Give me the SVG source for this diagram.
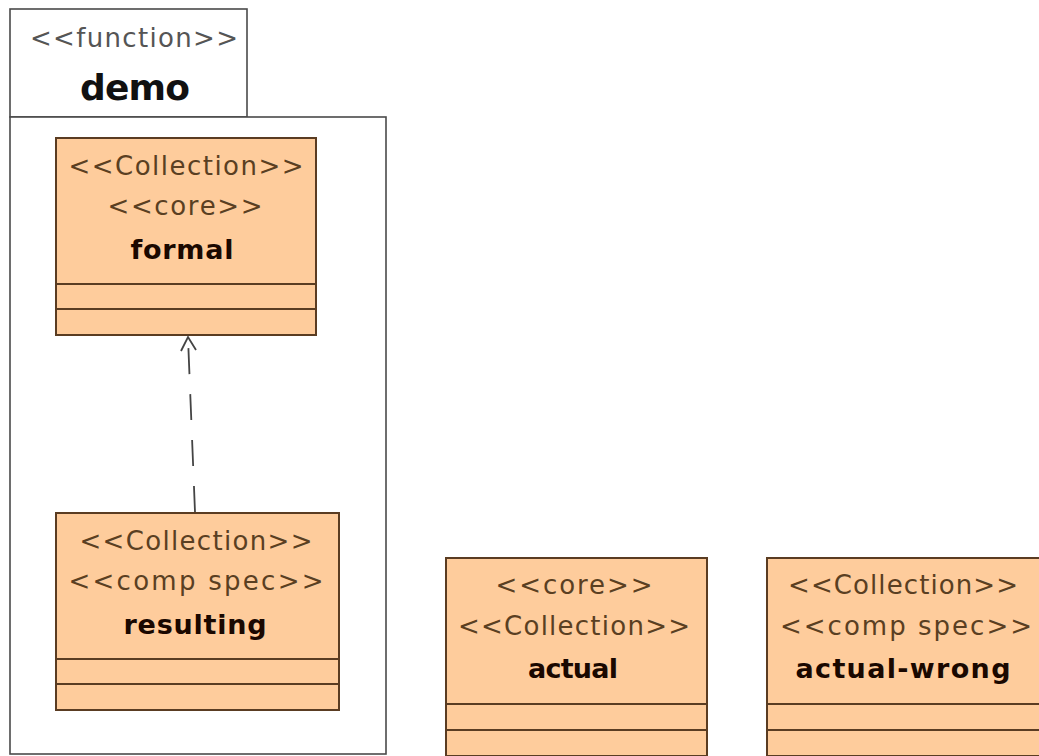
<svg xmlns="http://www.w3.org/2000/svg" width="1039" height="756" viewBox="0 0 1039 756">
<style>
.pkg{fill:#ffffff;stroke:#4a4a4a;stroke-width:1.6}
.cls{fill:#fecc9c;stroke:#5a3c22;stroke-width:2}
.sep{stroke:#5a3c22;stroke-width:2}
.st{font-family:"DejaVu Sans",sans-serif;font-size:26px;fill:#5a3f22;text-anchor:middle}
.nm{font-family:"DejaVu Sans",sans-serif;font-size:27px;font-weight:bold;fill:#1a0800;text-anchor:middle}
.pst{font-family:"DejaVu Sans",sans-serif;font-size:26px;fill:#555555;text-anchor:middle}
.pnm{font-family:"DejaVu Sans",sans-serif;font-size:36px;font-weight:bold;fill:#111111;text-anchor:middle}
.dep{fill:none;stroke:#444444;stroke-width:1.8}
</style>
<rect width="1039" height="756" fill="#ffffff"/>
<g id="demo">
<rect class="pkg" x="10" y="9" width="237" height="108"/>
<rect class="pkg" x="10" y="117" width="376" height="637"/>
<text class="pst" x="134" y="47" textLength="208" lengthAdjust="spacing">&lt;&lt;function&gt;&gt;</text>
<text class="pnm" x="135" y="100" textLength="110" lengthAdjust="spacing">demo</text>
</g>
<g id="formal">
<rect class="cls" x="56" y="138" width="260" height="197"/>
<line class="sep" x1="56" y1="284" x2="316" y2="284"/>
<line class="sep" x1="56" y1="309" x2="316" y2="309"/>
<text class="st" x="186" y="175" textLength="235" lengthAdjust="spacing">&lt;&lt;Collection&gt;&gt;</text>
<text class="st" x="185" y="215" textLength="155" lengthAdjust="spacing">&lt;&lt;core&gt;&gt;</text>
<text class="nm" x="182" y="259" textLength="103" lengthAdjust="spacing">formal</text>
</g>
<g id="resulting">
<rect class="cls" x="56" y="513" width="283" height="197"/>
<line class="sep" x1="56" y1="659" x2="339" y2="659"/>
<line class="sep" x1="56" y1="684" x2="339" y2="684"/>
<text class="st" x="196" y="550" textLength="233" lengthAdjust="spacing">&lt;&lt;Collection&gt;&gt;</text>
<text class="st" x="196" y="590" textLength="255" lengthAdjust="spacing">&lt;&lt;comp spec&gt;&gt;</text>
<text class="nm" x="195" y="634" textLength="143" lengthAdjust="spacing">resulting</text>
</g>
<g id="actual">
<rect class="cls" x="446" y="558" width="261" height="198"/>
<line class="sep" x1="446" y1="704" x2="707" y2="704"/>
<line class="sep" x1="446" y1="730" x2="707" y2="730"/>
<text class="st" x="574" y="594" textLength="157" lengthAdjust="spacing">&lt;&lt;core&gt;&gt;</text>
<text class="st" x="574" y="635" textLength="232" lengthAdjust="spacing">&lt;&lt;Collection&gt;&gt;</text>
<text class="nm" x="573" y="678" textLength="90" lengthAdjust="spacing">actual</text>
</g>
<g id="actual-wrong">
<rect class="cls" x="767" y="558" width="280" height="198"/>
<line class="sep" x1="767" y1="704" x2="1047" y2="704"/>
<line class="sep" x1="767" y1="730" x2="1047" y2="730"/>
<text class="st" x="903" y="594" textLength="230" lengthAdjust="spacing">&lt;&lt;Collection&gt;&gt;</text>
<text class="st" x="906" y="635" textLength="252" lengthAdjust="spacing">&lt;&lt;comp spec&gt;&gt;</text>
<text class="nm" x="903" y="678" textLength="215" lengthAdjust="spacing">actual-wrong</text>
</g>
<g id="connectors">
<line class="dep" x1="195" y1="512" x2="188" y2="338" stroke-dasharray="26 20"/>
<polyline class="dep" points="181,351 188,337 196,350"/>
</g>
</svg>
